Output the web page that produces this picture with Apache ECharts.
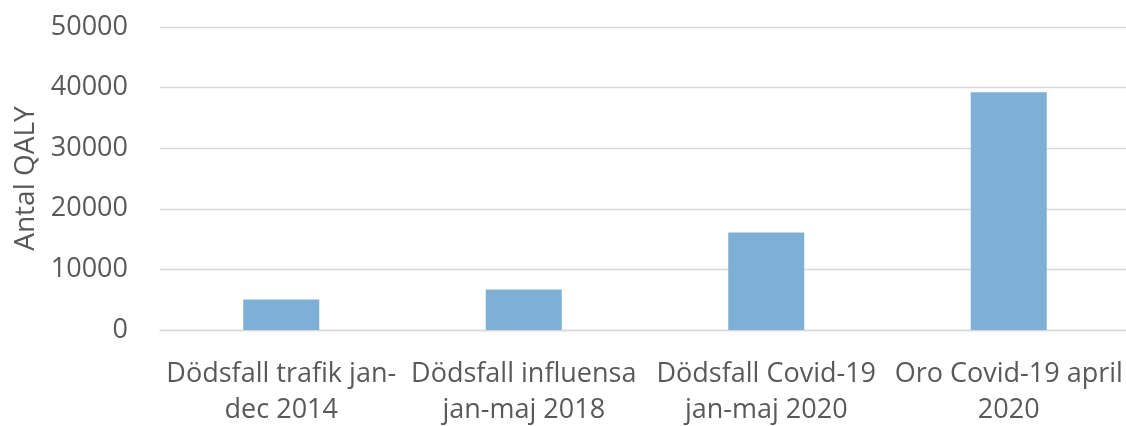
<!DOCTYPE html>
<html><head><meta charset="utf-8">
<script src="https://cdn.jsdelivr.net/npm/echarts@6/dist/echarts.min.js"></script>
<style>html,body{margin:0;padding:0;background:#fff}#c{width:1126px;height:426px}</style>
</head><body><div id="c"></div>
<script>
const categories = ["Dödsfall trafik jan-\ndec 2014", "Dödsfall influensa\njan-maj 2018", "Dödsfall Covid-19\njan-maj 2020", "Oro Covid-19 april\n2020"];
const values = [5050, 6700, 16100, 39250];
const yTicks = { min: 0, max: 50000, interval: 10000 };
const yName = "Antal QALY";

const chart = echarts.init(document.getElementById('c'), null, {renderer: 'canvas'});
const font = "'Open Sans', sans-serif";
chart.setOption({
  animation: false,
  grid: { left: 160, top: 27, width: 970, height: 303, containLabel: false, outerBoundsMode: 'none' },
  xAxis: {
    type: 'category', data: categories,
    axisLine: { show: true, lineStyle: { color: '#d9d9d9', width: 1.3 } },
    axisTick: { show: false },
    axisLabel: { color: '#595959', fontFamily: font, fontSize: 27, lineHeight: 36, margin: 26, interval: 0 }
  },
  yAxis: {
    type: 'value', min: yTicks.min, max: yTicks.max, interval: yTicks.interval,
    name: yName, nameLocation: 'middle', nameGap: 120, nameRotate: 90,
    nameTextStyle: { color: '#595959', fontFamily: font, fontSize: 28 },
    axisLine: { show: false }, axisTick: { show: false },
    axisLabel: { color: '#595959', fontFamily: font, fontSize: 27, margin: 32, formatter: v => String(v) },
    splitLine: { lineStyle: { color: '#d9d9d9', width: 1.3 } }
  },
  series: [{ type: 'bar', data: values, barWidth: 76, itemStyle: { color: '#7eafd5' } }]
});
</script></body></html>
